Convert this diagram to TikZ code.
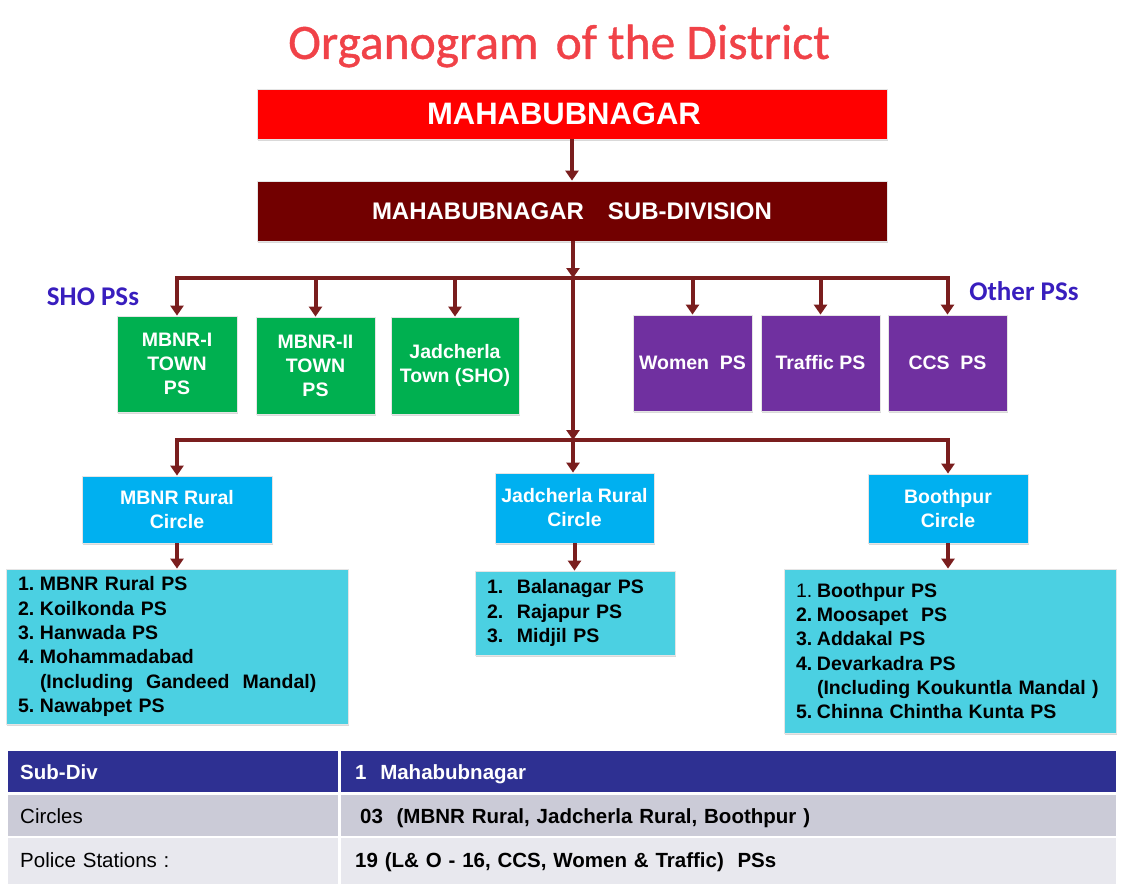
\documentclass[tikz,border=0pt]{standalone}
\usepackage{fontspec}
\setmainfont{Liberation Sans}
\newfontfamily\calibrifont{Carlito}
\newfontfamily\headingfont[FakeBold=0.8]{Carlito}
\usetikzlibrary{arrows.meta,shadows,calc}

\definecolor{titlered}{RGB}{240,66,72}
\definecolor{topred}{RGB}{255,0,0}
\definecolor{subred}{RGB}{114,0,0}
\definecolor{connred}{RGB}{122,30,30}
\definecolor{shogreen}{RGB}{0,176,80}
\definecolor{ospurple}{RGB}{112,48,160}
\definecolor{circblue}{RGB}{0,176,240}
\definecolor{listcyan}{RGB}{75,208,226}
\definecolor{labelblue}{RGB}{56,30,190}
\definecolor{tabhead}{RGB}{46,48,146}
\definecolor{tabrowa}{RGB}{203,203,215}
\definecolor{tabrowb}{RGB}{232,232,238}

\newcommand\numlab[2]{\makebox[#1][l]{#2}}

\tikzset{
  box/.style={rectangle, inner sep=0pt, draw=black!10, line width=0.8pt,
    drop shadow={shadow xshift=1.2pt, shadow yshift=-1.8pt, opacity=0.3},
    font=\fontsize{19.5}{24}\selectfont\bfseries, align=center, text=white},
  sized/.style 2 args={minimum width=#1pt, minimum height=#2pt},
  shobox/.style={box, fill=shogreen},
  osbox/.style={box, fill=ospurple},
  circbox/.style={box, fill=circblue},
  listbox/.style={box, fill=listcyan, text=black, align=left, inner xsep=12pt,
    font=\fontsize{19.5}{24.3}\selectfont\bfseries},
  grouplabel/.style={text=labelblue, font=\calibrifont\bfseries\fontsize{27}{30}\selectfont},
  conn/.style={draw=connred, line width=4pt},
  arr/.style={conn, -{Triangle[width=13pt,length=10pt]}},
  cell/.style={rectangle, anchor=north west, inner ysep=0pt, align=left,
    text height=20pt, text depth=4.5pt, font=\fontsize{20.5}{24}\selectfont},
  headcell/.style={cell, text=white, font=\fontsize{20.5}{24}\selectfont\bfseries},
  boldcell/.style={cell, font=\fontsize{20.5}{24}\selectfont\bfseries},
}

\begin{document}
\begin{tikzpicture}[x=1pt,y=-1pt]
\useasboundingbox (0,0) rectangle (1122,884);

% title
\node[text=titlered, font=\headingfont\fontsize{49.5}{52}\selectfont] (title) at (559,46)
  {Organogram\hspace{0.12em} of the District};

% district and sub-division
\node[box, sized={630}{50}, fill=topred, font=\fontsize{31}{34}\selectfont\bfseries] (dist) at (572,114) {MAHABUBNAGAR\hspace*{16pt}};
\node[box, sized={630}{60}, fill=subred, font=\fontsize{24}{28}\selectfont\bfseries] (sub) at (572,211) {MAHABUBNAGAR\quad SUB-DIVISION};

% group labels
\node[grouplabel] (sho) at (93,297) {SHO PSs};
\node[grouplabel] (other) at (1024,291) {Other PSs};

% SHO police stations
\node[shobox, sized={120}{96}] (m1) at (177,364) {MBNR-I\\TOWN\\PS};
\node[shobox, sized={119}{97}] (m2) at (315.5,365.5) {MBNR-II\\TOWN\\PS};
\node[shobox, sized={128}{97}] (jt) at (455,365.5) {Jadcherla\\Town (SHO)};

% other police stations
\node[osbox, sized={119}{96}] (women) at (692.5,363) {Women\ \ PS};
\node[osbox, sized={119}{96}] (traffic) at (820.5,363) {Traffic PS};
\node[osbox, sized={119}{96}] (ccs) at (947.5,363) {CCS\ \ PS};

% circles
\node[circbox, sized={190}{67}] (c1) at (177,509.5) {MBNR Rural\\Circle};
\node[circbox, sized={159}{70}] (c2) at (574.5,508) {Jadcherla Rural\\Circle};
\node[circbox, sized={160}{69}] (c3) at (948,508.5) {Boothpur\\Circle};

% police stations under each circle
\node[listbox, sized={342}{155}, text width=318pt] (l1) at (177,646.5) {%
  \numlab{22pt}{1.}MBNR Rural PS\\
  \numlab{22pt}{2.}Koilkonda PS\\
  \numlab{22pt}{3.}Hanwada PS\\
  \numlab{22pt}{4.}Mohammadabad\\
  \hspace*{22pt}(Including\ \ Gandeed\ \ Mandal)\\
  \numlab{22pt}{5.}Nawabpet PS};
\node[listbox, sized={200}{84}, text width=176pt] (l2) at (575,613) {%
  \numlab{30pt}{1.}Balanagar PS\\
  \numlab{30pt}{2.}Rajapur PS\\
  \numlab{30pt}{3.}Midjil PS};
\node[listbox, sized={332}{164}, text width=308pt] (l3) at (950,651) {%
  \numlab{21pt}{\mdseries 1.}Boothpur PS\\
  \numlab{21pt}{2.}Moosapet\ \ PS\\
  \numlab{21pt}{3.}Addakal PS\\
  \numlab{21pt}{4.}Devarkadra PS\\
  \hspace*{21pt}(Including Koukuntla Mandal )\\
  \numlab{21pt}{5.}Chinna Chintha Kunta PS};

% connectors
\coordinate (b1) at (573,278);
\coordinate (b2) at (573,440);
\draw[arr] (dist.south) -- (sub.north);
\draw[arr] (b1 |- sub.south) -- (b1);
\draw[arr] (b1) -| (m1.north);
\draw[arr] (b1) -| (ccs.north);
\foreach \n in {m2,jt,women,traffic}
  \draw[arr] (\n.north |- b1) -- (\n.north);
\draw[arr] (b1) -- (b2);
\draw[arr] (b2) -| (c1.north);
\draw[arr] (b2) -| (c3.north);
\draw[arr] (b2) -- (b2 |- c2.north);
\draw[arr] (c1.south) -- (l1.north);
\draw[arr] (c2.south) -- (c2.south |- l2.north);
\draw[arr] (c3.south) -- (c3.south |- l3.north);

% summary table
\fill[tabhead] (8,751) rectangle (338,792);
\fill[tabhead] (341,751) rectangle (1116,792);
\fill[tabrowa] (8,795) rectangle (338,836);
\fill[tabrowa] (341,795) rectangle (1116,836);
\fill[tabrowb] (8,838) rectangle (338,884);
\fill[tabrowb] (341,838) rectangle (1116,884);
\node[headcell, minimum height=41pt, text width=306pt, inner xsep=12pt] (h1) at (8,751) {Sub-Div};
\node[headcell, minimum height=41pt, text width=747pt, inner xsep=14pt] (h2) at (341,751) {1\ \ Mahabubnagar};
\node[cell, minimum height=41pt, text width=306pt, inner xsep=12pt] (r1a) at (8,795) {Circles};
\node[boldcell, minimum height=41pt, text width=743pt, inner xsep=19pt] (r1b) at (341,795) {03\ \ (MBNR Rural, Jadcherla Rural, Boothpur )};
\node[cell, minimum height=44pt, text width=306pt, inner xsep=12pt] (r2a) at (8,838) {Police Stations :};
\node[boldcell, minimum height=44pt, text width=747pt, inner xsep=14pt] (r2b) at (341,838) {19 (L\& O - 16, CCS, Women \& Traffic)\ \ PSs};
\end{tikzpicture}
\end{document}
